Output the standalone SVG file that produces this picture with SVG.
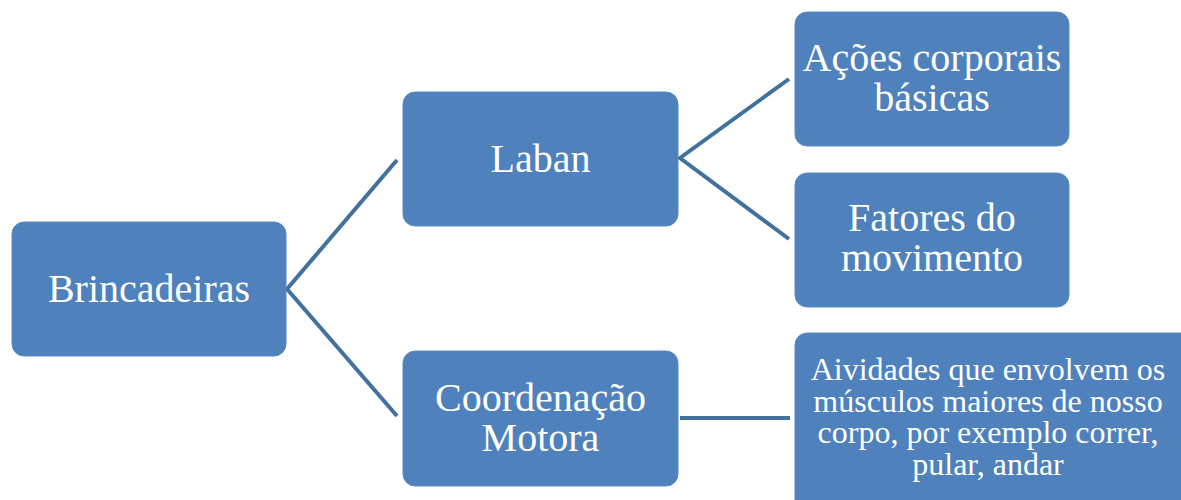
<svg xmlns="http://www.w3.org/2000/svg" width="1181" height="500" viewBox="0 0 1181 500">
<style>
.box{fill:#4F81BD;stroke:#5a8ac2;stroke-width:1}
.t{fill:#ffffff;text-anchor:middle;font-size:40px}
.s{font-size:32px}
.c{stroke:#41719C;stroke-width:4;fill:none}
</style>
<rect width="1181" height="500" fill="#ffffff"/>
<g id="connectors">
<polyline class="c" points="397,160 287,289 397,416"/>
<polyline class="c" points="789,79 680,158 789,239"/>
<line class="c" x1="680" y1="418" x2="790" y2="418"/>
</g>
<g font-family="Liberation Serif, serif">
<g id="brincadeiras">
<rect class="box" x="12" y="222" width="274" height="134" rx="12"/>
<text class="t" x="149" y="302">Brincadeiras</text>
</g>
<g id="laban">
<rect class="box" x="403" y="92" width="275" height="134" rx="12"/>
<text class="t" x="540.5" y="172">Laban</text>
</g>
<g id="coordenacao">
<rect class="box" x="403" y="351" width="275" height="135" rx="12"/>
<text class="t" x="540.5" y="411">Coordenação</text>
<text class="t" x="540.5" y="451">Motora</text>
</g>
<g id="acoes">
<rect class="box" x="795" y="12" width="274" height="134" rx="12"/>
<text class="t" x="932" y="71">Ações corporais</text>
<text class="t" x="932" y="111">básicas</text>
</g>
<g id="fatores">
<rect class="box" x="795" y="173" width="274" height="134" rx="12"/>
<text class="t" x="932" y="231">Fatores do</text>
<text class="t" x="932" y="271">movimento</text>
</g>
<g id="atividades">
<rect class="box" x="795" y="333" width="400" height="190" rx="12"/>
<text class="t s" x="988" y="380">Aividades que envolvem os</text>
<text class="t s" x="988" y="412">músculos maiores de nosso</text>
<text class="t s" x="988" y="443">corpo, por exemplo correr,</text>
<text class="t s" x="988" y="475">pular, andar</text>
</g>
</g>
</svg>
